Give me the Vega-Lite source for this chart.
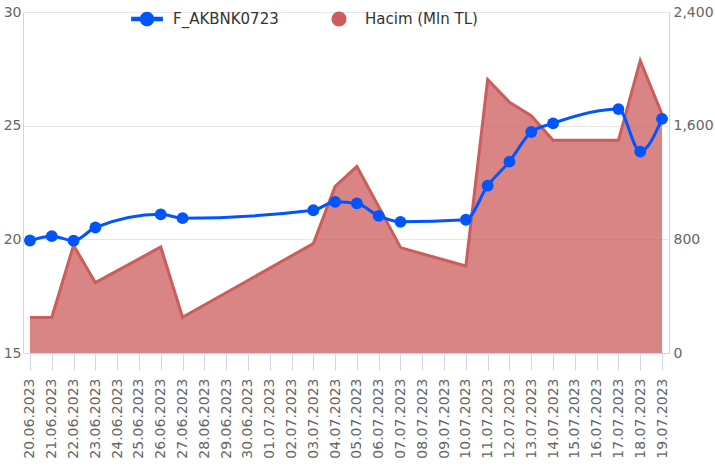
{
  "$schema": "https://vega.github.io/schema/vega-lite/v6.json",
  "width": 646,
  "height": 341,
  "autosize": {"type": "none"},
  "padding": {"left": 23, "top": 12, "right": 46, "bottom": 117},
  "background": "white",
  "config": {"font": "DejaVu Sans", "view": {"stroke": null}},
  "data": {
    "values": [
      {"date": "20.06.2023", "price": 19.95, "vol": 250},
      {"date": "21.06.2023", "price": 20.14, "vol": 250},
      {"date": "22.06.2023", "price": 19.94, "vol": 758},
      {"date": "23.06.2023", "price": 20.52, "vol": 495},
      {"date": "26.06.2023", "price": 21.1, "vol": 746},
      {"date": "27.06.2023", "price": 20.93, "vol": 252},
      {"date": "03.07.2023", "price": 21.28, "vol": 770},
      {"date": "04.07.2023", "price": 21.65, "vol": 1172},
      {"date": "05.07.2023", "price": 21.58, "vol": 1313},
      {"date": "06.07.2023", "price": 21.03, "vol": 1030},
      {"date": "07.07.2023", "price": 20.77, "vol": 742},
      {"date": "10.07.2023", "price": 20.86, "vol": 612},
      {"date": "11.07.2023", "price": 22.36, "vol": 1925},
      {"date": "12.07.2023", "price": 23.42, "vol": 1765},
      {"date": "13.07.2023", "price": 24.72, "vol": 1670},
      {"date": "14.07.2023", "price": 25.1, "vol": 1498},
      {"date": "17.07.2023", "price": 25.73, "vol": 1497},
      {"date": "18.07.2023", "price": 23.86, "vol": 2058},
      {"date": "19.07.2023", "price": 25.3, "vol": 1680}
    ]
  },
  "encoding": {
    "x": {
      "field": "date",
      "type": "ordinal",
      "sort": null,
      "scale": {
        "type": "point",
        "padding": 0.32,
        "domain": ["20.06.2023","21.06.2023","22.06.2023","23.06.2023","24.06.2023","25.06.2023","26.06.2023","27.06.2023","28.06.2023","29.06.2023","30.06.2023","01.07.2023","02.07.2023","03.07.2023","04.07.2023","05.07.2023","06.07.2023","07.07.2023","08.07.2023","09.07.2023","10.07.2023","11.07.2023","12.07.2023","13.07.2023","14.07.2023","15.07.2023","16.07.2023","17.07.2023","18.07.2023","19.07.2023"]
      },
      "axis": {
        "title": null,
        "labelAngle": -90,
        "labelFontSize": 14,
        "labelColor": "#666666",
        "labelPadding": 8,
        "tickColor": "#ccd6eb",
        "tickSize": 17,
        "domainColor": "#ccd6eb",
        "grid": false,
        "labelOverlap": false
      }
    }
  },
  "layer": [
    {
      "mark": {"type": "area", "interpolate": "linear", "fillOpacity": 0.75, "line": {"strokeWidth": 3}},
      "encoding": {
        "y": {
          "field": "vol",
          "type": "quantitative",
          "scale": {"domain": [0, 2400], "nice": false},
          "axis": {
            "orient": "right",
            "title": null,
            "values": [0, 800, 1600, 2400],
            "format": ",.0f",
            "grid": false,
            "ticks": false,
            "labelPadding": 4,
            "labelFontSize": 14,
            "labelColor": "#666666",
            "domainColor": "#ccd6eb"
          }
        },
        "color": {
          "datum": "Hacim (Mln TL)",
          "scale": {"domain": ["F_AKBNK0723", "Hacim (Mln TL)"], "range": ["#0055ff", "#cd5c5c"]},
          "legend": {
            "title": null,
            "orient": "none",
            "direction": "horizontal",
            "legendX": 116,
            "legendY": -1,
            "padding": 0,
            "symbolSize": 230,
            "labelOffset": 18,
            "columnPadding": 52,
            "labelFontSize": 15,
            "labelColor": "#333333",
            "encode": {
              "symbols": {
                "update": {
                  "shape": {"signal": "datum.value === 'F_AKBNK0723' ? 'M-2.1,-0.3 L-0.9,-0.3 L-0.9,0.3 L-2.1,0.3 Z M0.9,-0.3 L2.1,-0.3 L2.1,0.3 L0.9,0.3 Z M0.96,0 A0.96,0.96 0 1,1 -0.96,0 A0.96,0.96 0 1,1 0.96,0 Z' : 'circle'"},
                  "fill": {"signal": "datum.value === 'F_AKBNK0723' ? '#0055ff' : '#cd5c5c'"},
                  "fillOpacity": {"value": 1},
                  "opacity": {"value": 1},
                  "strokeWidth": {"value": 0}
                }
              }
            }
          }
        }
      }
    },
    {
      "mark": {"type": "line", "interpolate": "monotone", "strokeWidth": 3, "point": {"filled": true, "size": 140, "opacity": 1}},
      "encoding": {
        "y": {
          "field": "price",
          "type": "quantitative",
          "scale": {"domain": [15, 30], "nice": false},
          "axis": {
            "orient": "left",
            "title": null,
            "values": [15, 20, 25, 30],
            "grid": true,
            "gridColor": "#e6e6e6",
            "ticks": false,
            "labelPadding": 2,
            "labelFontSize": 14,
            "labelColor": "#666666",
            "domainColor": "#ccd6eb"
          }
        },
        "color": {"datum": "F_AKBNK0723"}
      }
    }
  ],
  "resolve": {"scale": {"y": "independent"}}
}
